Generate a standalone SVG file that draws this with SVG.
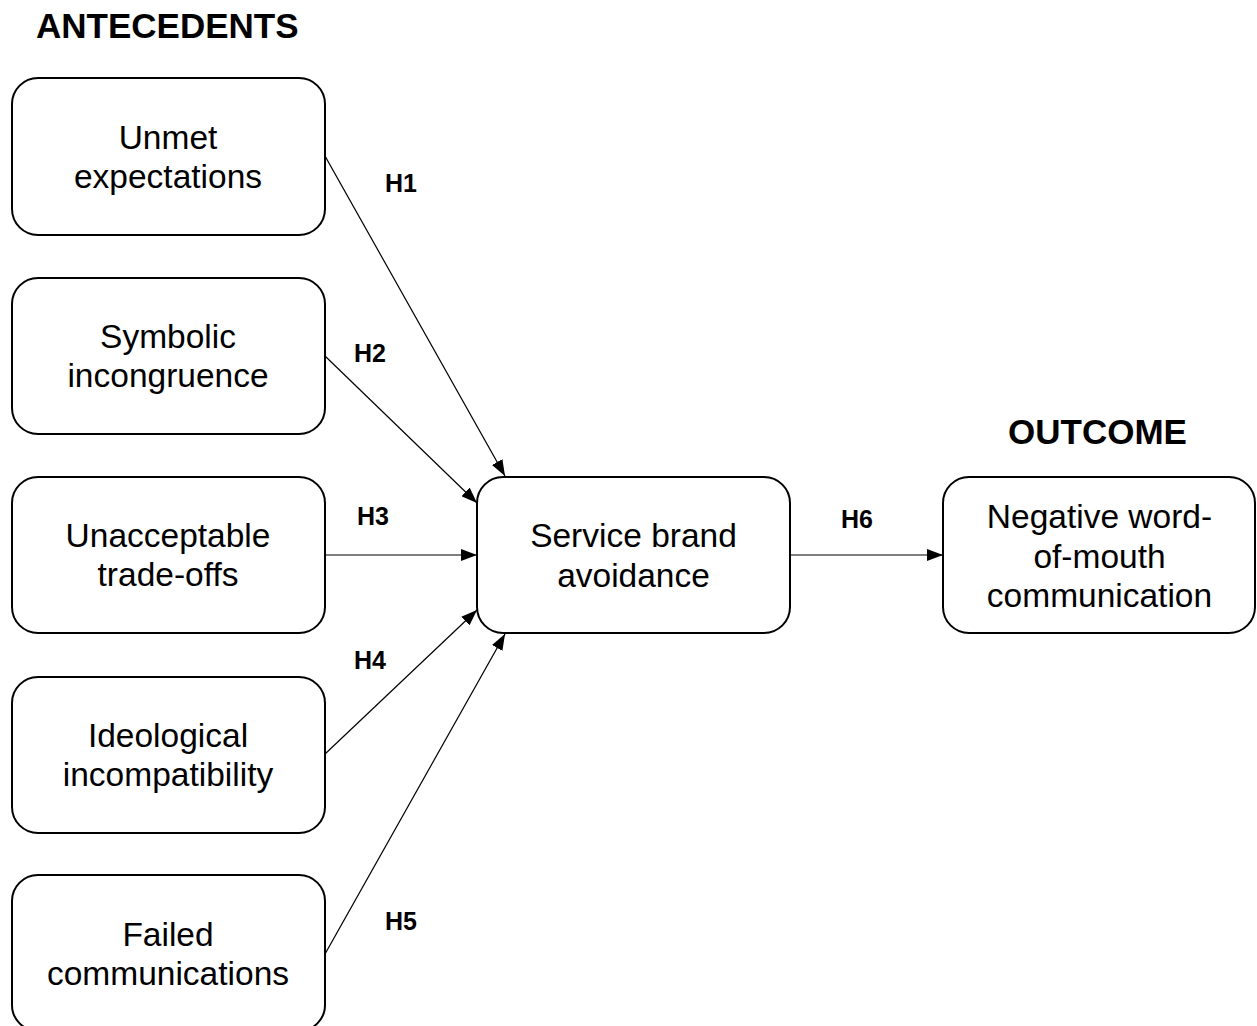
<svg xmlns="http://www.w3.org/2000/svg" width="1257" height="1026" viewBox="0 0 1257 1026">
<style>
.box{fill:#fff;stroke:#000;stroke-width:2}
.t{font-family:"Liberation Sans",Arial,sans-serif;font-size:33.5px;text-anchor:middle;fill:#000}
.h{font-family:"Liberation Sans",Arial,sans-serif;font-size:25px;font-weight:bold;text-anchor:middle;fill:#000}
.title{font-family:"Liberation Sans",Arial,sans-serif;font-size:35px;font-weight:bold;fill:#000}
.c{stroke:#000;stroke-width:1.2;fill:none;marker-end:url(#arr)}
</style>
<defs>
<marker id="arr" viewBox="0 0 16 12" refX="16" refY="6" markerWidth="16" markerHeight="12" markerUnits="userSpaceOnUse" orient="auto">
<path d="M0,0 L16,6 L0,12 Z" fill="#000"/>
</marker>
</defs>
<rect width="1257" height="1026" fill="#fff"/>
<text class="title" x="36" y="38">ANTECEDENTS</text>
<text class="title" x="1008" y="444">OUTCOME</text>
<g id="connectors">
<line class="c" x1="325" y1="156" x2="505" y2="476"/>
<line class="c" x1="325" y1="356" x2="477" y2="503"/>
<line class="c" x1="325" y1="555" x2="477" y2="555"/>
<line class="c" x1="325" y1="754" x2="477" y2="610"/>
<line class="c" x1="325" y1="954" x2="505" y2="634"/>
<line class="c" x1="790" y1="555" x2="943" y2="555"/>
<text class="h" x="401" y="192">H1</text>
<text class="h" x="370" y="362">H2</text>
<text class="h" x="373" y="525">H3</text>
<text class="h" x="370" y="669">H4</text>
<text class="h" x="401" y="930">H5</text>
<text class="h" x="857" y="528">H6</text>
</g>
<g id="n1"><rect class="box" x="12" y="78" width="313" height="157" rx="26"/><text class="t" x="168" y="149">Unmet</text><text class="t" x="168" y="188">expectations</text></g>
<g id="n2"><rect class="box" x="12" y="278" width="313" height="156" rx="26"/><text class="t" x="168" y="348">Symbolic</text><text class="t" x="168" y="387">incongruence</text></g>
<g id="n3"><rect class="box" x="12" y="477" width="313" height="156" rx="26"/><text class="t" x="168" y="547">Unacceptable</text><text class="t" x="168" y="586">trade-offs</text></g>
<g id="n4"><rect class="box" x="12" y="677" width="313" height="156" rx="26"/><text class="t" x="168" y="747">Ideological</text><text class="t" x="168" y="786">incompatibility</text></g>
<g id="n5"><rect class="box" x="12" y="875" width="313" height="156" rx="26"/><text class="t" x="168" y="946">Failed</text><text class="t" x="168" y="985">communications</text></g>
<g id="center"><rect class="box" x="477" y="477" width="313" height="156" rx="26"/><text class="t" x="633.5" y="547">Service brand</text><text class="t" x="633.5" y="587">avoidance</text></g>
<g id="outcome"><rect class="box" x="943" y="477" width="312" height="156" rx="26"/><text class="t" x="1099.5" y="528">Negative word-</text><text class="t" x="1099.5" y="568">of-mouth</text><text class="t" x="1099.5" y="607">communication</text></g>
</svg>
